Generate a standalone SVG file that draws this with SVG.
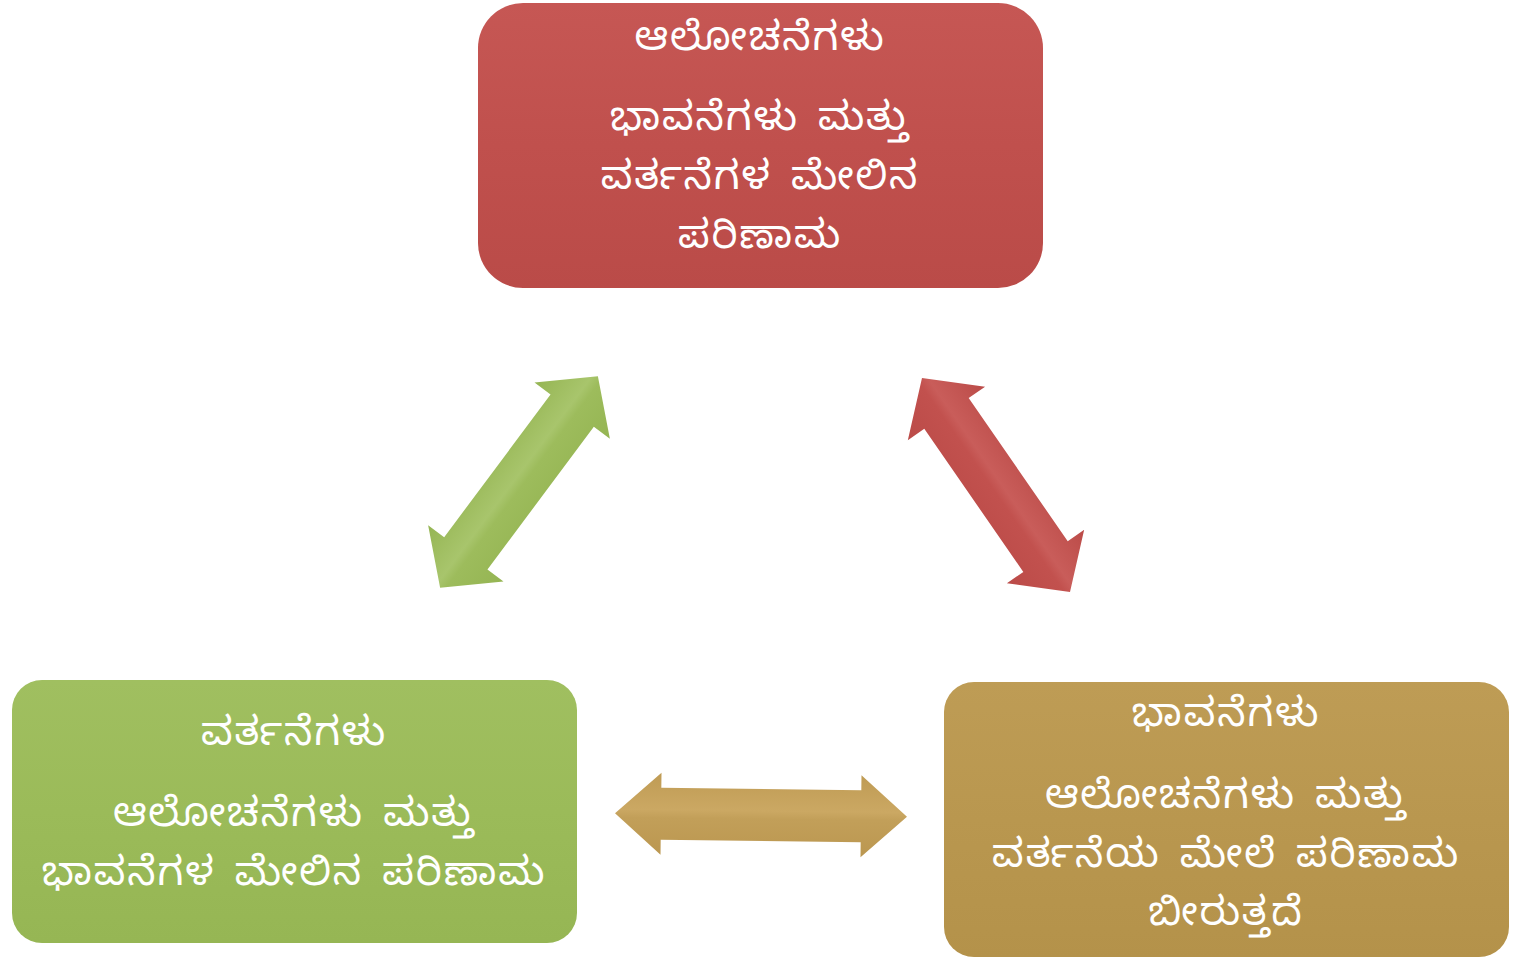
<svg xmlns="http://www.w3.org/2000/svg" width="1513" height="958" viewBox="0 0 1513 958">
<defs>
<style>
.t{font-family:"Noto Sans Kannada","Noto Sans","DejaVu Sans",sans-serif;font-size:40px;letter-spacing:1.8px;word-spacing:6px;fill:#ffffff;text-anchor:middle;dominant-baseline:central}
</style>
<linearGradient id="gRed" x1="0" y1="0" x2="0" y2="1"><stop offset="0" stop-color="#c65754"/><stop offset="0.5" stop-color="#c0504d"/><stop offset="1" stop-color="#ba4b48"/></linearGradient>
<linearGradient id="gGreen" x1="0" y1="0" x2="0" y2="1"><stop offset="0" stop-color="#a0bf60"/><stop offset="0.5" stop-color="#9bbb59"/><stop offset="1" stop-color="#96b654"/></linearGradient>
<linearGradient id="gGold" x1="0" y1="0" x2="0" y2="1"><stop offset="0" stop-color="#be9c55"/><stop offset="0.5" stop-color="#b9974f"/><stop offset="1" stop-color="#b4924a"/></linearGradient>
<linearGradient id="aRed" x1="0" y1="0" x2="0" y2="1"><stop offset="0" stop-color="#bb4b48"/><stop offset="0.45" stop-color="#c95d5a"/><stop offset="0.55" stop-color="#c2514e"/><stop offset="1" stop-color="#bb4b48"/></linearGradient>
<linearGradient id="aGreen" x1="0" y1="0" x2="0" y2="1"><stop offset="0" stop-color="#95b553"/><stop offset="0.45" stop-color="#a8c56c"/><stop offset="0.55" stop-color="#9dbc5c"/><stop offset="1" stop-color="#95b553"/></linearGradient>
<linearGradient id="aGold" x1="0" y1="0" x2="0" y2="1"><stop offset="0" stop-color="#bf9b54"/><stop offset="0.45" stop-color="#cba863"/><stop offset="0.55" stop-color="#c29f59"/><stop offset="1" stop-color="#bb9750"/></linearGradient>
</defs>
<g id="connectors">
<polygon transform="translate(519,482) rotate(-53.3)" fill="url(#aGreen)" points="-132,0 -89,-47 -89,-27 89,-27 89,-47 132,0 89,47 89,27 -89,27 -89,47"/>
<polygon transform="translate(996,485) rotate(55.3)" fill="url(#aRed)" points="-130,0 -87,-47 -87,-27 87,-27 87,-47 130,0 87,47 87,27 -87,27 -87,47"/>
<polygon transform="translate(761,815) rotate(0.7)" fill="url(#aGold)" points="-146,0 -100,-41 -100,-26 100,-26 100,-41 146,0 100,41 100,26 -100,26 -100,41"/>
</g>
<g id="node-thoughts">
<rect x="478" y="3" width="565" height="285" rx="45" fill="url(#gRed)"/>
<text class="t" x="760" y="45">ಆಲೋಚನೆಗಳು</text>
<text class="t" x="760" y="125">ಭಾವನೆಗಳು ಮತ್ತು</text>
<text class="t" x="760" y="184">ವರ್ತನೆಗಳ ಮೇಲಿನ</text>
<text class="t" x="760" y="243">ಪರಿಣಾಮ</text>
</g>
<g id="node-behaviour">
<rect x="12" y="680" width="565" height="263" rx="30" fill="url(#gGreen)"/>
<text class="t" x="294" y="740">ವರ್ತನೆಗಳು</text>
<text class="t" x="294" y="821">ಆಲೋಚನೆಗಳು ಮತ್ತು</text>
<text class="t" x="294" y="880">ಭಾವನೆಗಳ ಮೇಲಿನ ಪರಿಣಾಮ</text>
</g>
<g id="node-feelings">
<rect x="944" y="682" width="565" height="275" rx="30" fill="url(#gGold)"/>
<text class="t" x="1226" y="721">ಭಾವನೆಗಳು</text>
<text class="t" x="1226" y="803">ಆಲೋಚನೆಗಳು ಮತ್ತು</text>
<text class="t" x="1226" y="862">ವರ್ತನೆಯ ಮೇಲೆ ಪರಿಣಾಮ</text>
<text class="t" x="1226" y="920">ಬೀರುತ್ತದೆ</text>
</g>
</svg>
